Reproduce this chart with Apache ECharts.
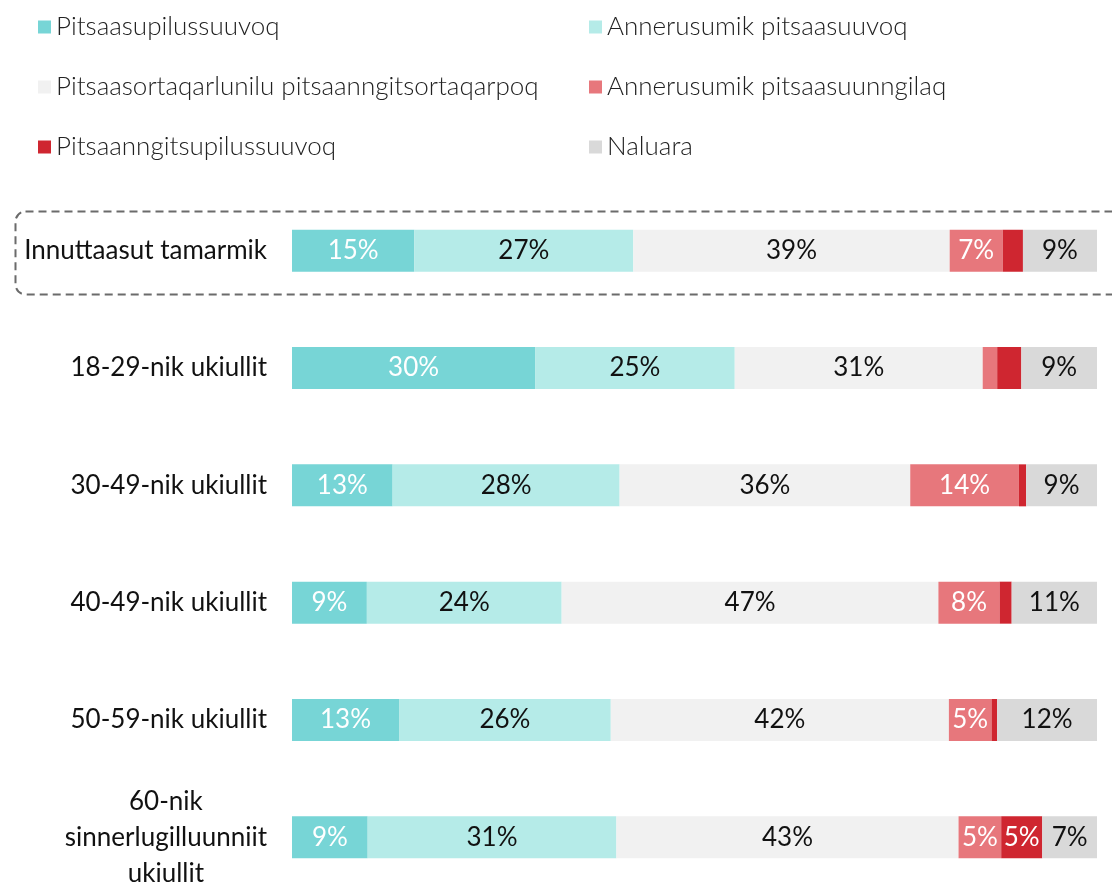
<!DOCTYPE html>
<html>
<head>
<meta charset="utf-8">
<script src="https://cdn.jsdelivr.net/npm/echarts@6/dist/echarts.min.js"></script>
<style>
  html, body { margin: 0; padding: 0; background: #fff; overflow: hidden; }
  #main { width: 1112px; height: 896px; }
</style>
</head>
<body>
<div id="main"></div>
<script>
// age groups, top to bottom
var categories = [
  'Innuttaasut tamarmik',
  '18-29-nik ukiullit',
  '30-49-nik ukiullit',
  '40-49-nik ukiullit',
  '50-59-nik ukiullit',
  '60-nik\nsinnerlugilluunniit\nukiullit'
];

var seriesNames = [
  'Pitsaasupilussuuvoq',
  'Annerusumik pitsaasuuvoq',
  'Pitsaasortaqarlunilu pitsaanngitsortaqarpoq',
  'Annerusumik pitsaasuunngilaq',
  'Pitsaanngitsupilussuuvoq',
  'Naluara'
];

// share in percent
var veryGood    = [15.2, 30.2, 12.5,  9.3, 13.3,  9.4];
var ratherGood  = [27.2, 24.8, 28.2, 24.2, 26.3, 30.9];
var mixed       = [39.3, 30.8, 36.1, 46.8, 42.0, 42.5];
var ratherBad   = [ 6.6,  1.8, 13.5,  7.6,  5.3,  5.3];
var veryBad     = [ 2.5,  3.0,  0.9,  1.5,  0.7,  5.1];
var dontKnow    = [ 9.2,  9.4,  8.8, 10.6, 12.4,  6.8];

var colors = ['#77d5d6', '#b5ebe8', '#f1f1f1', '#e7777c', '#cf2630', '#d9d9d9'];
var labelColors = ['#fff', '#111', '#111', '#fff', '#fff', '#111'];
var values = [veryGood, ratherGood, mixed, ratherBad, veryBad, dontKnow];

var font = 'Lato';

var series = values.map(function (arr, i) {
  return {
    name: seriesNames[i],
    type: 'bar',
    stack: 'total',
    barWidth: 42,
    itemStyle: { color: colors[i] },
    label: {
      show: true,
      position: 'inside',
      color: labelColors[i],
      fontFamily: font,
      fontSize: 26,
      formatter: function (p) {
        return p.value >= 4.5 ? Math.round(p.value) + '%' : '';
      }
    },
    data: arr
  };
});

var legendText = { fontFamily: font, fontSize: 26, fontWeight: 300, color: '#222', lineHeight: 30 };

var chart = echarts.init(document.getElementById('main'));
chart.setOption({
  animation: false,
  legend: [
    {
      left: 33, top: 7, orient: 'vertical',
      itemWidth: 13, itemHeight: 13, itemGap: 30,
      icon: 'rect',
      textStyle: legendText,
      data: [seriesNames[0], seriesNames[2], seriesNames[4]]
    },
    {
      left: 584, top: 7, orient: 'vertical',
      itemWidth: 13, itemHeight: 13, itemGap: 30,
      icon: 'rect',
      textStyle: legendText,
      data: [seriesNames[1], seriesNames[3], seriesNames[5]]
    }
  ],
  // plot runs a little past the visible window, like the original
  grid: { left: 292, right: 15, top: 192, bottom: 0 },
  xAxis: {
    type: 'value', min: 0, max: 100,
    show: false
  },
  yAxis: {
    type: 'category',
    inverse: true,
    data: categories,
    axisLine: { show: false },
    axisTick: { show: false },
    axisLabel: {
      margin: 25,
      fontFamily: font,
      fontSize: 26,
      color: '#111',
      lineHeight: 36,
      formatter: function (v) {
        if (v.indexOf('\n') < 0) return v;
        return v.split('\n').map(function (s) { return '{c|' + s + '}'; }).join('\n');
      },
      rich: {
        c: { align: 'center', fontFamily: font, fontSize: 26, color: '#111', lineHeight: 36 }
      }
    }
  },
  graphic: [
    {
      type: 'rect',
      left: 13, top: 209,
      shape: { width: 1115, height: 83, r: 10 },
      style: { fill: 'none', stroke: '#6b6b6b', lineWidth: 2, lineDash: [8, 5] },
      z: 10
    }
  ],
  series: series
});
</script>
</body>
</html>
